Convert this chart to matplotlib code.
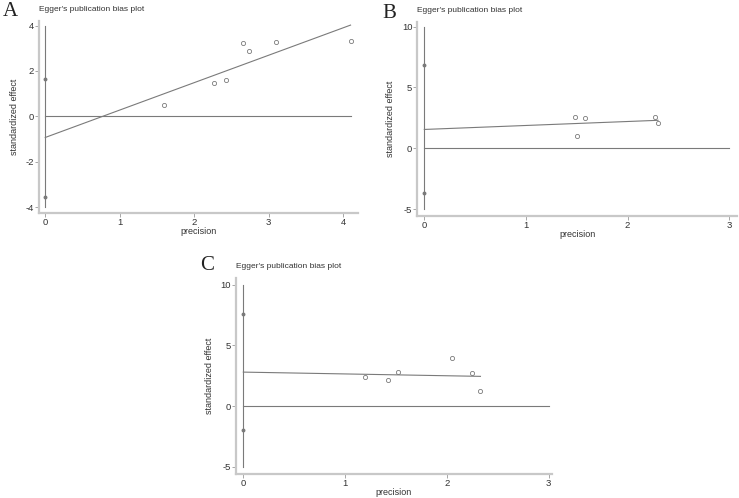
import numpy as np
import matplotlib
matplotlib.use("Agg")
import matplotlib.pyplot as plt

W, H = 739, 498

# panel A
a_prec = [1.60, 2.27, 2.43, 2.66, 2.73, 3.10, 4.10]
a_eff = [0.50, 1.48, 1.60, 3.22, 2.90, 3.28, 3.32]
a_ci = [1.65, -3.55]
a_fit = [-0.93, 4.02]
# panel B
b_prec = [1.48, 1.50, 1.58, 2.27, 2.30]
b_eff = [2.60, 1.05, 2.50, 2.55, 2.05]
b_ci = [6.80, -3.70]
b_fit = [1.55, 2.30]
# panel C
c_prec = [1.20, 1.42, 1.52, 2.05, 2.25, 2.33]
c_eff = [2.40, 2.15, 2.80, 3.95, 2.75, 1.25]
c_ci = [7.55, -2.00]
c_fit = [2.80, 2.45]

panels = [
    # letter, prec, eff, ci, fit, xticks, yticks, vspan, zero line end
    ("A", a_prec, a_eff, a_ci, a_fit, [0, 1, 2, 3, 4], [-4, -2, 0, 2, 4], (-4, 4), 4.1),
    ("B", b_prec, b_eff, b_ci, b_fit, [0, 1, 2, 3], [-5, 0, 5, 10], (-5, 10), 3),
    ("C", c_prec, c_eff, c_ci, c_fit, [0, 1, 2, 3], [-5, 0, 5, 10], (-5, 10), 3),
]

# axes box in pixels (left, top, right, bottom) and data limits
boxes = [
    ((39.3, 21, 358, 213.3), (-0.08, 4.2), (-4.27, 4.2)),
    ((417.3, 22, 737.3, 215.7), (-0.069, 3.08), (-5.53, 10.37)),
    ((236, 278, 551.7, 473.5), (-0.072, 3.03), (-5.55, 10.55)),
]
letter_pos = [(3, 2), (382, 4), (200, 256)]

spine_c = "#c8c8c8"
line_c = "#7a7a7a"
txt_c = "#333333"

plt.rcParams["font.family"] = ["Liberation Sans", "DejaVu Sans"]
plt.rcParams["axes.unicode_minus"] = False

fig = plt.figure(figsize=(W / 100, H / 100), dpi=100)

for (letter, px, py, ci, fit, xt, yt, vspan, zend), (box, xl, yl), lp in zip(panels, boxes, letter_pos):
    l, t, r, b = box
    ax = fig.add_axes([l / W, 1 - b / H, (r - l) / W, (b - t) / H])
    ax.set_xlim(xl)
    ax.set_ylim(yl)
    for s in ["top", "right"]:
        ax.spines[s].set_visible(False)
    for s in ["left", "bottom"]:
        ax.spines[s].set_color(spine_c)
        ax.spines[s].set_linewidth(1.6)
    ax.set_xticks(xt)
    ax.set_yticks(yt)
    ax.tick_params(colors=txt_c, labelsize=6.8, length=2.8, width=0.6, pad=0.8)
    ax.tick_params(axis="both", color="#999999")
    ax.set_xlabel("precision", fontsize=6.5, color=txt_c, labelpad=0)
    ax.set_ylabel("standardized effect", fontsize=6.5, color=txt_c, labelpad=5)
    ax.set_title("Egger's publication bias plot", loc="left", fontsize=6, color=txt_c, pad=7)

    ax.plot([0, 0], vspan, color=line_c, lw=0.8)
    ax.plot([0, zend], [0, 0], color=line_c, lw=0.8)
    ax.plot([0, max(px)], fit, color=line_c, lw=0.8)
    ax.plot([0, 0], ci, "o", ms=1.8, color=line_c)
    ax.plot(px, py, "o", ms=3, mfc="none", mec=line_c, mew=0.6)

    fig.text(lp[0] / W, 1 - lp[1] / H, letter, fontsize=15, va="top", ha="left",
             family=["Liberation Serif", "DejaVu Serif"], color="#222222")

fig.savefig("out.png", dpi=100)
